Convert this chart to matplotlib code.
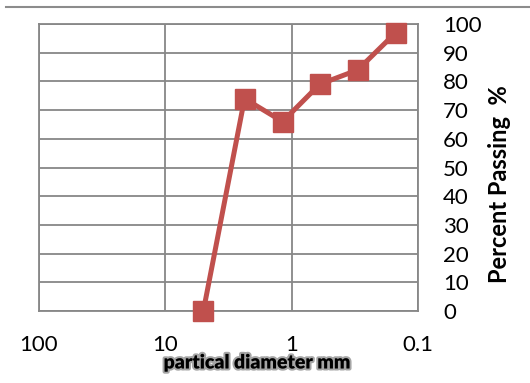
import matplotlib
matplotlib.use("Agg")
import matplotlib.pyplot as plt
import matplotlib.patheffects as pe
from matplotlib.lines import Line2D

# sieve analysis results
diameter_mm = [5.0, 2.36, 1.18, 0.60, 0.30, 0.15]
percent_passing = [0, 74, 66, 79, 84, 97]

x_ticks = [100, 10, 1, 0.1]
x_tick_labels = ["100", "10", "1", "0.1"]
y_ticks = list(range(0, 101, 10))

plt.rcParams['font.family'] = ['Lato', 'DejaVu Sans']

fig = plt.figure(figsize=(5.3, 3.83), dpi=100)
ax = fig.add_axes([39 / 530, 72 / 383, 379 / 530, 287 / 383])

ax.plot(diameter_mm, percent_passing, color='#C0504D', linewidth=3.6,
        marker='s', markersize=14, markerfacecolor='#C0504D',
        markeredgecolor='#C0504D', clip_on=False, zorder=3)

ax.set_xscale('log')
ax.set_xlim(100, 0.1)
ax.set_ylim(0, 100)
ax.set_xticks(x_ticks)
ax.set_xticklabels(x_tick_labels)
ax.minorticks_off()
ax.set_yticks(y_ticks)

ax.yaxis.tick_right()
ax.yaxis.set_label_position('right')
ax.tick_params(axis='both', length=0, labelsize=16)
ax.tick_params(axis='x', pad=17)
ax.tick_params(axis='y', pad=18)

ax.grid(True, color='#878787', linewidth=1.3)
for s in ax.spines.values():
    s.set_color('#878787')
    s.set_linewidth(1.3)

ax.set_ylabel('Percent Passing  %', fontsize=17, fontweight='bold',
              ha='center', va='center')
ax.yaxis.set_label_coords(1.215, 0.442)
ax.set_xlabel('partical diameter mm', fontsize=14, fontweight='heavy',
              ha='center', va='center',
              path_effects=[pe.Stroke(linewidth=3, foreground='black', alpha=0.35),
                            pe.Normal()])
ax.xaxis.set_label_coords(0.575, -0.181)

# thin rule along the top edge
fig.add_artist(Line2D([6 / 530, 1], [1 - 7.3 / 383] * 2, color='#8c8c8c',
                      linewidth=1.5, transform=fig.transFigure))

fig.savefig('out.png', dpi=100)
